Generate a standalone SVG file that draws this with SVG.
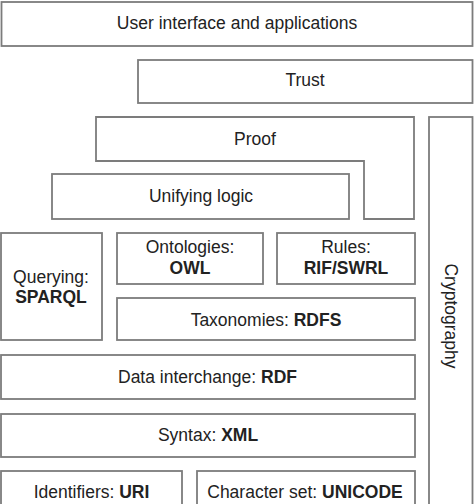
<svg xmlns="http://www.w3.org/2000/svg" width="474" height="504" viewBox="0 0 474 504">
<style>
.box{fill:#ffffff;stroke:#7c7c7c;stroke-width:1.8}
text{font-family:"Liberation Sans",Arial,sans-serif;font-size:17.5px;fill:#222;text-anchor:middle}
.b{font-weight:bold}
</style>
<rect width="474" height="504" fill="#ffffff"/>
<g id="ui"><rect class="box" x="1.5" y="2" width="471" height="44"/><text x="237" y="29">User interface and applications</text></g>
<g id="trust"><rect class="box" x="138" y="60" width="334.5" height="43"/><text x="305" y="86">Trust</text></g>
<g id="proof"><path class="box" d="M96,117 H414 V219 H364 V161 H96 Z"/><text x="255" y="145">Proof</text></g>
<g id="logic"><rect class="box" x="52" y="174" width="297" height="45"/><text x="201" y="202">Unifying logic</text></g>
<g id="crypto"><rect class="box" x="429" y="117" width="43.5" height="392"/><text transform="translate(445,316) rotate(90)" x="0" y="0">Cryptography</text></g>
<g id="querying"><rect class="box" x="1" y="233" width="101" height="107"/><text x="51" y="283">Querying:</text><text class="b" x="51" y="303">SPARQL</text></g>
<g id="ontologies"><rect class="box" x="117" y="233" width="146" height="51"/><text x="190" y="253">Ontologies:</text><text class="b" x="190" y="274">OWL</text></g>
<g id="rules"><rect class="box" x="277" y="233" width="138" height="51"/><text x="346" y="253">Rules:</text><text class="b" x="346" y="274">RIF/SWRL</text></g>
<g id="rdfs"><rect class="box" x="117" y="298" width="298" height="42"/><text x="266" y="326">Taxonomies: <tspan class="b">RDFS</tspan></text></g>
<g id="rdf"><rect class="box" x="1" y="355" width="414" height="44"/><text x="207.5" y="383">Data interchange: <tspan class="b">RDF</tspan></text></g>
<g id="xml"><rect class="box" x="1" y="414" width="414" height="43"/><text x="208" y="441">Syntax: <tspan class="b">XML</tspan></text></g>
<g id="uri"><rect class="box" x="1" y="471" width="181" height="40"/><text x="91.5" y="498">Identifiers: <tspan class="b">URI</tspan></text></g>
<g id="unicode"><rect class="box" x="197" y="471" width="218" height="40"/><text x="305" y="498">Character set: <tspan class="b">UNICODE</tspan></text></g>
<g id="connectors"></g>
</svg>
